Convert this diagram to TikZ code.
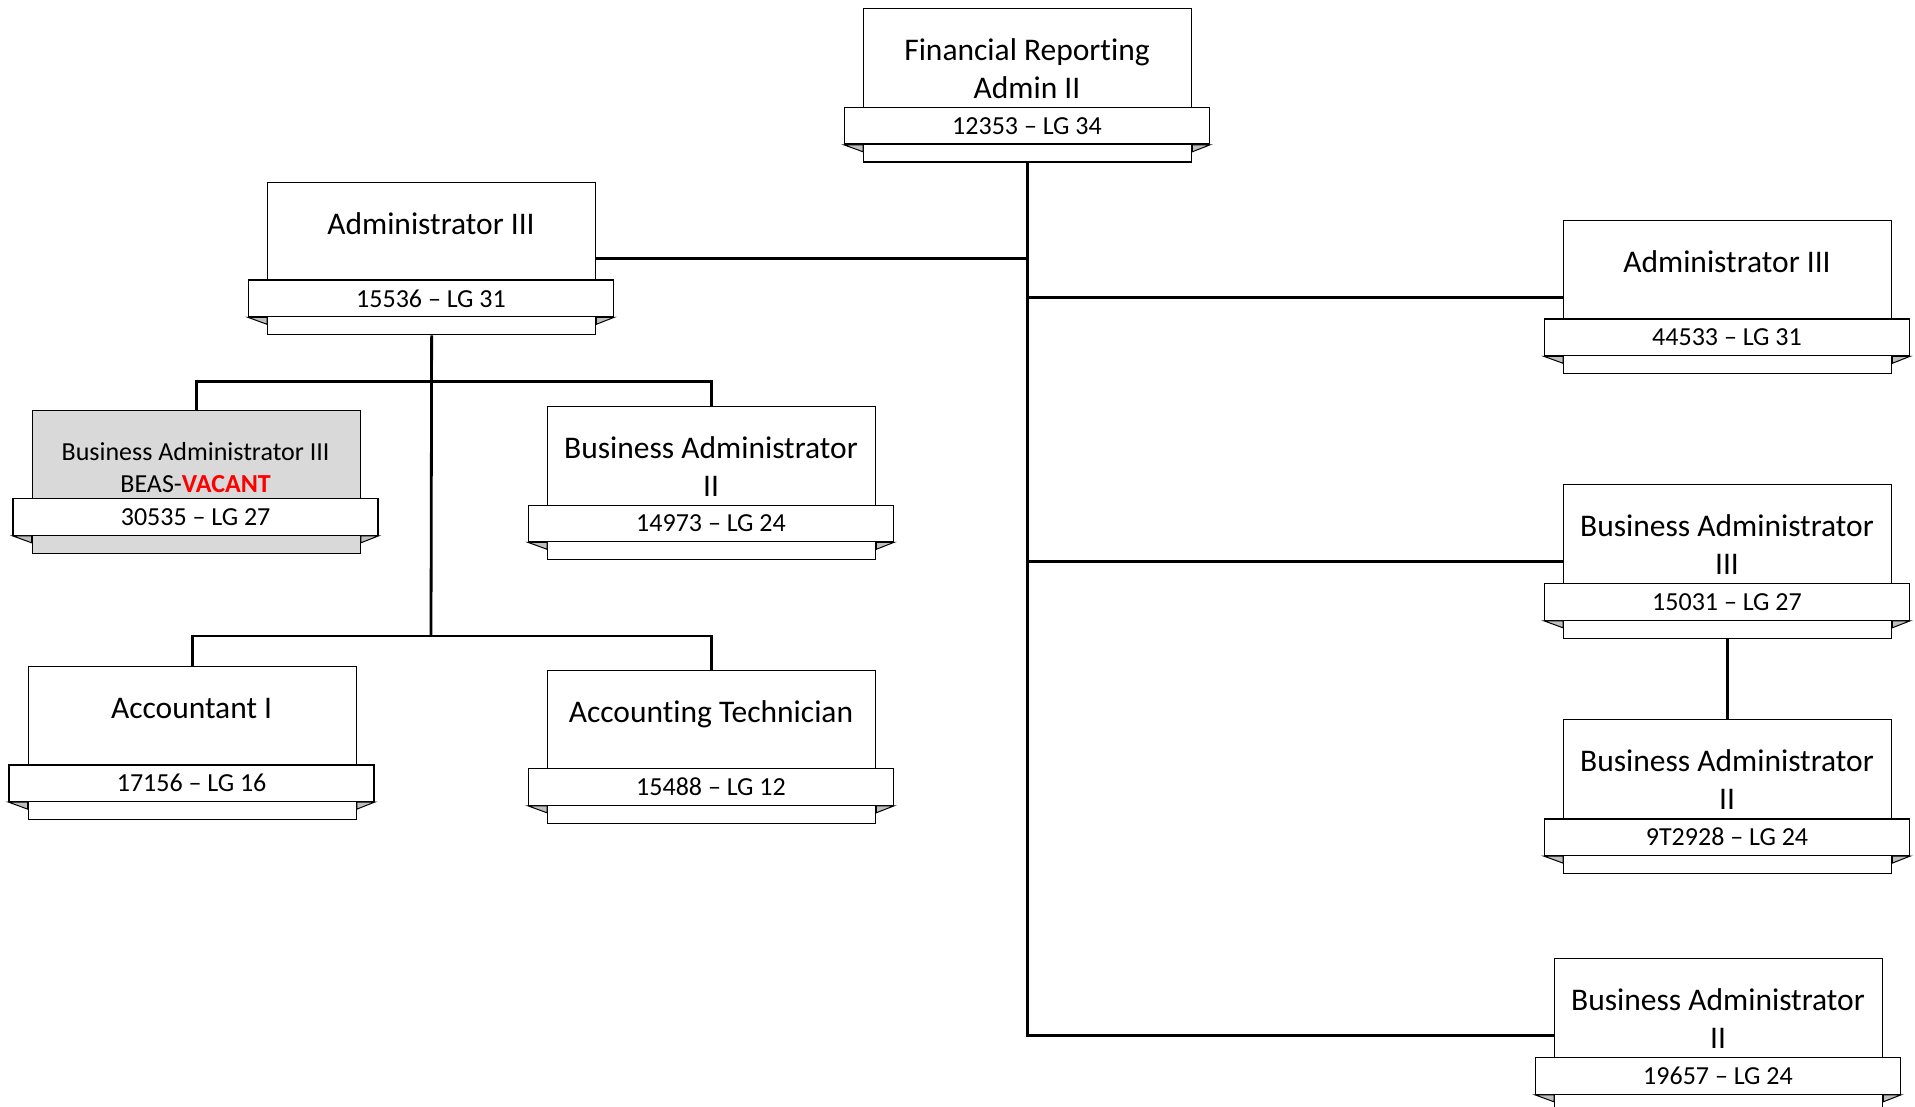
\documentclass[tikz,border=0pt]{standalone}
\usepackage{fontspec}
\setmainfont{Carlito}[Ligatures=NoCommon]
\definecolor{vacgray}{HTML}{D9D9D9}
\definecolor{foldgray}{HTML}{BFBFBF}
\definecolor{vacred}{HTML}{FF0000}
\tikzset{
  unitbox/.style={rectangle, draw=black, line width=1.3pt, fill=white, minimum width=328, inner sep=0pt},
  ribbonbox/.style={rectangle, draw=black, line width=1.3pt, fill=white, minimum width=365, minimum height=36.5, inner sep=0pt, font=\fontsize{26}{31}\selectfont},
  titletext/.style={inner sep=0pt, align=center, font=\fontsize{31.5}{38}\selectfont},
  vacant/.style={fill=vacgray, font=\fontsize{26}{32}\selectfont},
  fold/.style={draw=black, line width=1pt, fill=foldgray, line join=miter},
  conn/.style={draw=black, line width=2.8pt},
}
% #1 extra style, #2 name, #3 left x, #4 top y, #5 ribbon top y, #6 title, #7 id
% a strut fixes the top of the title, so its first baseline sits about 52 below the box top
\newcommand\orgunit[7][]{%
  \node[unitbox, #1, anchor=north west, minimum height={#5-#4+54.5}] (#2) at (#3,#4) {};
  \node[ribbonbox, anchor=north] (#2r) at (#3+164,#5) {#7};
  \node[titletext, #1, anchor=north] (#2t) at (#3+164,#4+26.5) {\rule{0pt}{\dimexpr 0.42\baselineskip+10pt\relax}#6};
  \filldraw[fold] (#2r.south west) -- (#2r.south west -| #2.west) -- ++(0,7) -- cycle;
  \filldraw[fold] (#2r.south east) -- (#2r.south east -| #2.east) -- ++(0,7) -- cycle;
}
\begin{document}
\begin{tikzpicture}[x=1pt,y=-1pt]
\useasboundingbox (0,0) rectangle (1915,1107);
\clip (0,0) rectangle (1915,1107);

\orgunit{fr}{863}{8}{107}{Financial Reporting\\Admin II}{12353 – LG 34}
\orgunit{adm3L}{267}{182}{279.5}{Administrator III}{15536 – LG 31}
\orgunit{adm3R}{1563}{220}{318.5}{Administrator III}{44533 – LG 31}
\orgunit[vacant]{vac}{31.6}{410}{498}{Business Administrator III\\BEAS-\textcolor{vacred}{\textbf{VACANT}}}{30535 – LG 27}
\orgunit{ba2a}{547}{406}{504.5}{Business Administrator\\II}{14973 – LG 24}
\orgunit{acc1}{27.6}{666}{764.3}{Accountant I}{17156 – LG 16}
\orgunit{acctech}{547}{670}{768}{Accounting Technician}{15488 – LG 12}
\orgunit{ba3R}{1563}{484}{583}{Business Administrator\\III}{15031 – LG 27}
\orgunit{ba2R}{1563}{719}{818.3}{Business Administrator\\II}{9T2928 – LG 24}
\orgunit{ba2B}{1554}{958}{1057}{Business Administrator\\II}{19657 – LG 24}

% junction points of the left subtree
\coordinate (b1) at (431,381.5);
\coordinate (b2) at (431,636);

% connectors
\draw[conn] (fr.south) -- (fr.south |- ba2B.west) -- (ba2B.west);
\draw[conn] (fr.south |- adm3R.west) -- (adm3R.west);
\draw[conn] (fr.south |- ba3R.west) -- (ba3R.west);
\draw[conn] (adm3L.east) -- (adm3L.east -| fr.south);
\draw[conn] (ba3R.south) -- (ba2R.north);
\draw[conn] (adm3L.south) -- (b2);
\draw[conn] (vac.north) |- (b1) -| (ba2a.north);
\draw[conn] (acc1.north) |- (b2) -| (acctech.north);
\end{tikzpicture}
\end{document}
